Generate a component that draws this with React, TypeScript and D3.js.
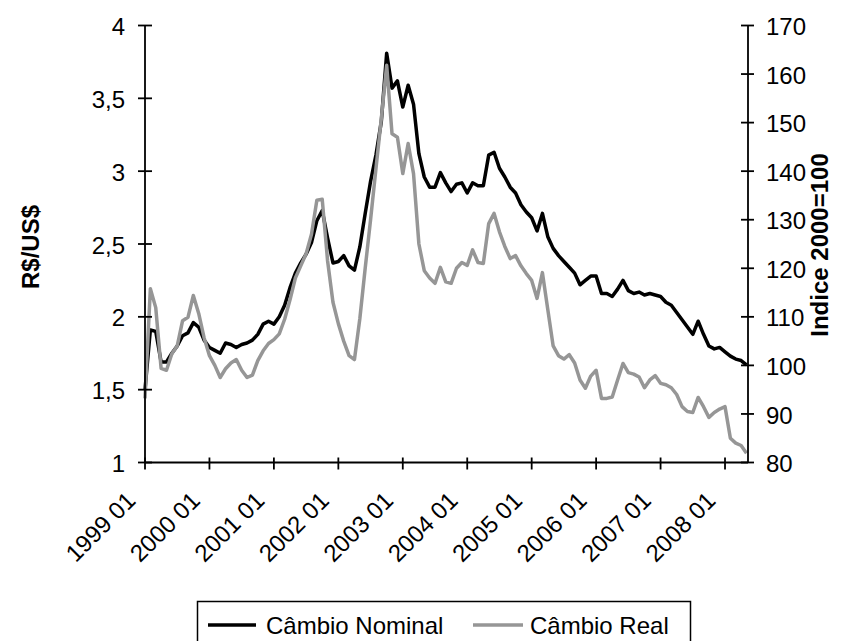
import { useEffect, useRef } from 'react'
import * as d3 from 'd3'

// monthly data, 1999 01 .. 2008 05
const nominal = [
  1.50, 1.91, 1.90, 1.69, 1.69, 1.75, 1.80, 1.87, 1.89, 1.96, 1.93, 1.84,
  1.79, 1.77, 1.75, 1.82, 1.81, 1.79, 1.81, 1.82, 1.84, 1.88, 1.95, 1.97,
  1.95, 2.00, 2.08, 2.20, 2.30, 2.37, 2.43, 2.51, 2.66, 2.73, 2.54, 2.37,
  2.38, 2.42, 2.35, 2.32, 2.48, 2.71, 2.93, 3.11, 3.34, 3.81, 3.57, 3.62,
  3.44, 3.59, 3.46, 3.12, 2.96, 2.89, 2.89, 2.99, 2.92, 2.86, 2.91, 2.92,
  2.85, 2.92, 2.90, 2.90, 3.11, 3.13, 3.02, 2.96, 2.89, 2.85, 2.77, 2.72,
  2.68, 2.59, 2.71, 2.55, 2.47, 2.42, 2.38, 2.34, 2.30, 2.22, 2.25, 2.28,
  2.28, 2.16, 2.16, 2.14, 2.19, 2.25, 2.18, 2.16, 2.17, 2.15, 2.16, 2.15,
  2.14, 2.10, 2.08, 2.03, 1.98, 1.93, 1.88, 1.97, 1.88, 1.80, 1.78, 1.79,
  1.76, 1.73, 1.71, 1.70, 1.67,
]

const real = [
  93.2, 115.8, 111.9, 99.4, 99.0, 102.4, 104.0, 109.2, 109.9, 114.4, 110.7, 105.7,
  102.0, 100.0, 97.5, 99.3, 100.5, 101.2, 99.0, 97.5, 98.0, 101.0, 103.0, 104.5,
  105.3, 106.5, 109.5, 113.5, 118.0, 120.5, 123.0, 127.0, 134.0, 134.2, 121.5, 113.0,
  108.6, 105.0, 102.0, 101.2, 109.6, 120.0, 130.0, 140.5, 150.8, 161.8, 147.7, 147.0,
  139.5, 145.7, 139.5, 125.0, 119.5, 118.0, 116.9, 120.2, 117.2, 116.9, 120.0, 121.2,
  120.6, 123.8, 121.2, 121.0, 129.2, 131.3, 127.5, 124.5, 122.0, 122.6, 120.5, 118.9,
  117.5, 113.8, 119.1, 111.5, 104.0, 102.0, 101.3, 102.2, 100.5, 97.0, 95.3, 97.8,
  99.0, 93.2, 93.2, 93.5, 97.0, 100.4, 98.5, 98.2, 97.6, 95.4, 97.0, 97.9,
  96.3, 96.0, 95.4, 94.0, 91.5, 90.5, 90.3, 93.4, 91.5, 89.3, 90.3, 91.0,
  91.5, 85.0, 84.0, 83.5, 81.9,
]

const xTickLabels = [
  '1999 01', '2000 01', '2001 01', '2002 01', '2003 01',
  '2004 01', '2005 01', '2006 01', '2007 01', '2008 01',
]
const leftTicks = [1, 1.5, 2, 2.5, 3, 3.5, 4]
const rightTicks = [80, 90, 100, 110, 120, 130, 140, 150, 160, 170]
const seriesNames = ['Câmbio Nominal', 'Câmbio Real']

const FONT = '"Liberation Sans", Arial, sans-serif'

const App = () => {
  const ref = useRef<SVGSVGElement>(null)

  useEffect(() => {
    const svg = d3.select(ref.current)
    svg.selectAll('*').remove()

    const left = 145
    const right = 748
    const top = 25.5
    const bottom = 462.5

    const x = d3.scaleLinear().domain([0, nominal.length - 1]).range([left, 746.5])
    const yL = d3.scaleLinear().domain([1, 4]).range([bottom, top])
    const yR = d3.scaleLinear().domain([80, 170]).range([bottom, top])

    const g = svg.append('g').style('font-family', FONT)

    // lines
    const lineL = d3.line<number>().x((_, i) => x(i)).y((d) => yL(d))
    const lineR = d3.line<number>().x((_, i) => x(i)).y((d) => yR(d))

    g.append('path')
      .datum(nominal)
      .attr('d', lineL)
      .attr('fill', 'none')
      .attr('stroke', '#000')
      .attr('stroke-width', 3.5)
      .attr('stroke-linejoin', 'round')

    g.append('path')
      .datum(real)
      .attr('d', lineR)
      .attr('fill', 'none')
      .attr('stroke', '#969696')
      .attr('stroke-width', 3.5)
      .attr('stroke-linejoin', 'round')

    // axes
    const axis = g.append('g').attr('stroke', '#000').attr('stroke-width', 1.8)
    axis.append('line').attr('x1', left).attr('x2', left).attr('y1', top).attr('y2', bottom)
    axis.append('line').attr('x1', right).attr('x2', right).attr('y1', top).attr('y2', bottom)
    axis.append('line').attr('x1', left).attr('x2', right).attr('y1', bottom).attr('y2', bottom)

    axis.selectAll('.tl')
      .data(leftTicks)
      .join('line')
      .attr('x1', left - 7).attr('x2', left + 7)
      .attr('y1', (d) => yL(d)).attr('y2', (d) => yL(d))

    axis.selectAll('.tr')
      .data(rightTicks)
      .join('line')
      .attr('x1', right - 7).attr('x2', right + 6)
      .attr('y1', (d) => yR(d)).attr('y2', (d) => yR(d))

    axis.selectAll('.tx')
      .data(xTickLabels)
      .join('line')
      .attr('x1', (_, i) => x(i * 12)).attr('x2', (_, i) => x(i * 12))
      .attr('y1', bottom - 5).attr('y2', bottom + 7)

    // tick labels
    g.selectAll('.ll')
      .data(leftTicks)
      .join('text')
      .attr('x', 125)
      .attr('y', (d) => yL(d))
      .attr('dy', '0.4em')
      .attr('text-anchor', 'end')
      .attr('font-size', 24)
      .text((d) => d3.format('')(d).replace('.', ','))

    g.selectAll('.rl')
      .data(rightTicks)
      .join('text')
      .attr('x', 766)
      .attr('y', (d) => yR(d))
      .attr('dy', '0.4em')
      .attr('text-anchor', 'start')
      .attr('font-size', 24)
      .text((d) => d)

    g.selectAll('.xl')
      .data(xTickLabels)
      .join('text')
      .attr('transform', (_, i) => `translate(${x(i * 12) - 8},502) rotate(-45)`)
      .attr('text-anchor', 'end')
      .attr('font-size', 24)
      .text((d) => d)

    // axis titles
    g.append('text')
      .attr('transform', 'translate(31,247) rotate(-90)')
      .attr('dy', '0.35em')
      .attr('text-anchor', 'middle')
      .attr('font-size', 24)
      .attr('font-weight', 'bold')
      .text('R$/US$')

    g.append('text')
      .attr('transform', 'translate(820,245) rotate(-90)')
      .attr('dy', '0.35em')
      .attr('text-anchor', 'middle')
      .attr('font-size', 24)
      .attr('font-weight', 'bold')
      .text('Indice 2000=100')

    // legend
    const lg = g.append('g')
    lg.append('rect')
      .attr('x', 197.5).attr('y', 601.5)
      .attr('width', 493).attr('height', 48)
      .attr('fill', '#fff').attr('stroke', '#000').attr('stroke-width', 1.5)

    const items = [
      { name: seriesNames[0], color: '#000', x0: 208, x1: 256, tx: 266 },
      { name: seriesNames[1], color: '#969696', x0: 473, x1: 523, tx: 530 },
    ]
    items.forEach((it) => {
      lg.append('line')
        .attr('x1', it.x0).attr('x2', it.x1)
        .attr('y1', 625).attr('y2', 625)
        .attr('stroke', it.color).attr('stroke-width', 3.5)
      lg.append('text')
        .attr('x', it.tx).attr('y', 625)
        .attr('dy', '0.36em')
        .attr('font-size', 24)
        .text(it.name)
    })
  }, [])

  return (
    <svg
      ref={ref}
      width={845}
      height={641}
      style={{ position: 'absolute', left: 0, top: 0, background: '#fff' }}
    />
  )
}

export default App
